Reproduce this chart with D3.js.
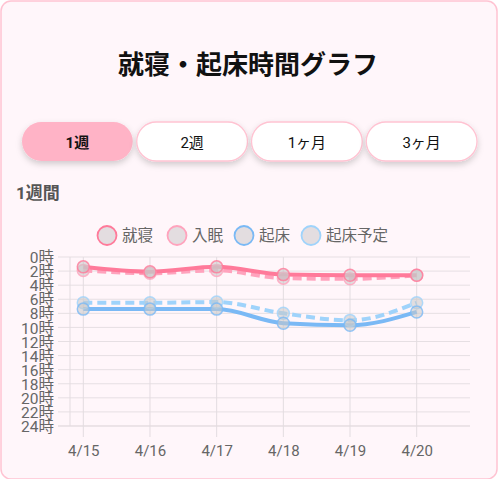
<!DOCTYPE html>
<html><head><meta charset="utf-8">
<script src="https://cdn.jsdelivr.net/npm/d3@7"></script>
<style>
html,body{margin:0;padding:0;background:#fff;}
svg{display:block;font-family:Roboto,"Noto Sans CJK JP","Noto Sans",sans-serif;}
</style></head>
<body>
<svg id="c" width="500" height="479"></svg>
<script>
const title = "就寝・起床時間グラフ";
const periodButtons = ["1週", "2週", "1ヶ月", "3ヶ月"];
const subtitle = "1週間";
const dates = ["4/15", "4/16", "4/17", "4/18", "4/19", "4/20"];
const hourTicks = [0, 2, 4, 6, 8, 10, 12, 14, 16, 18, 20, 22, 24];
const seriesNames = ["就寝", "入眠", "起床", "起床予定"];
const bedtime = [1.4, 2.1, 1.4, 2.5, 2.6, 2.6];
const sleepOnset = [1.9, 2.3, 1.9, 3.0, 3.1, 2.6];
const wakeup = [7.4, 7.4, 7.4, 9.4, 9.7, 7.8];
const plannedWake = [6.5, 6.5, 6.4, 8.0, 9.0, 6.5];

const seriesStyle = [
  {data: bedtime, color: "#ff7a9a", dash: null},
  {data: sleepOnset, color: "#ffa3bd", dash: "9,5"},
  {data: wakeup, color: "#7ab9f5", dash: null},
  {data: plannedWake, color: "#9fd3fb", dash: "9,5"}
];

const svg = d3.select("#c");
const defs = svg.append("defs");
const f = defs.append("filter").attr("id","sh").attr("x","-20%").attr("y","-40%").attr("width","140%").attr("height","200%");
f.append("feDropShadow").attr("dx",0).attr("dy",3).attr("stdDeviation",3).attr("flood-color","#000").attr("flood-opacity",0.18);

// card
svg.append("rect").attr("x",1).attr("y",1).attr("width",496).attr("height",478).attr("rx",10)
  .attr("fill","#fff6fa").attr("stroke","#ffc3d2").attr("stroke-width",1.5);

svg.append("text").attr("x",248).attr("y",74).attr("text-anchor","middle")
  .attr("font-family","'Noto Sans CJK JP',sans-serif")
  .attr("font-size",26).attr("font-weight","bold").attr("fill","#111").text(title);

// buttons
const bx = d3.scaleBand().domain(periodButtons).range([22,477]).paddingInner(0.035);
const bg = svg.append("g");
periodButtons.forEach((b,i)=>{
  const g = bg.append("g").attr("transform",`translate(${bx(b)},122)`);
  g.append("rect").attr("width",bx.bandwidth()).attr("height",39).attr("rx",19.5)
    .attr("fill", i===0 ? "#ffb3c6" : "#ffffff")
    .attr("stroke", i===0 ? "none" : "#ffc3d2").attr("stroke-width",1.3)
    .attr("filter","url(#sh)");
  g.append("text").attr("x",bx.bandwidth()/2).attr("y",25.5).attr("text-anchor","middle")
    .attr("font-size",15).attr("font-weight", i===0 ? "bold":"normal").attr("fill","#111").text(b);
});

svg.append("text").attr("x",16).attr("y",199).attr("font-size",17).attr("font-weight","bold")
  .attr("fill","#555").text(subtitle);

// legend
const legX = [107, 177, 244, 311];
seriesNames.forEach((n,i)=>{
  svg.append("circle").attr("cx",legX[i]).attr("cy",235.5).attr("r",9.5)
    .attr("fill","#e3dde0").attr("stroke",seriesStyle[i].color).attr("stroke-width",1.8);
  svg.append("text").attr("x",legX[i]+15).attr("y",241).attr("font-size",15.5)
    .attr("fill","#666").text(n);
});

// scales
const y = d3.scaleLinear().domain([0,24]).range([257,426]);
const x = d3.scalePoint().domain(dates).range([83.3,416.7]);

const grid = svg.append("g");
hourTicks.forEach(h=>{
  grid.append("line").attr("x1",58).attr("x2",470).attr("y1",y(h)).attr("y2",y(h))
    .attr("stroke", h===24 ? "#d9d1d5" : "#e6dfe3").attr("stroke-width",1);
});
dates.forEach(d=>{
  grid.append("line").attr("x1",x(d)).attr("x2",x(d)).attr("y1",257).attr("y2",437)
    .attr("stroke","#e3dce0").attr("stroke-width",1);
});
grid.append("line").attr("x1",70).attr("x2",70).attr("y1",257).attr("y2",426)
  .attr("stroke","#e3dce0").attr("stroke-width",1);

// y axis labels
const yAxis = d3.axisLeft(y).tickValues(hourTicks).tickSize(0).tickFormat(d=>d+"時");
const ya = svg.append("g").attr("transform","translate(54,0)").call(yAxis);
ya.select(".domain").remove();
ya.selectAll("text").attr("font-size",15.5).attr("fill","#666").attr("dy","0.36em").attr("x",0)
  .attr("font-family","Roboto,'Noto Sans CJK JP',sans-serif");

// x axis labels
const xAxis = d3.axisBottom(x).tickSize(0);
const xa = svg.append("g").attr("transform","translate(0,442)").call(xAxis);
xa.select(".domain").remove();
xa.selectAll("text").attr("font-size",15).attr("fill","#666").attr("dy","0.71em")
  .attr("font-family","Roboto,'Noto Sans CJK JP',sans-serif");

// lines
const line = d3.line().x((d,i)=>x(dates[i])).y(d=>y(d)).curve(d3.curveMonotoneX);
const drawOrder = [3,2,1,0];
drawOrder.forEach(k=>{
  const s = seriesStyle[k];
  svg.append("path").attr("d",line(s.data)).attr("fill","none")
    .attr("stroke",s.color).attr("stroke-width",4)
    .attr("stroke-dasharray",s.dash).attr("stroke-linejoin","round");
});
drawOrder.forEach(k=>{
  const s = seriesStyle[k];
  svg.append("g").selectAll("circle").data(s.data).join("circle")
    .attr("cx",(d,i)=>x(dates[i])).attr("cy",d=>y(d)).attr("r",6)
    .attr("fill","rgba(200,200,200,0.55)").attr("stroke",s.color).attr("stroke-width",1.5)
    .attr("stroke-opacity",0.8);
});
</script>
</body></html>
